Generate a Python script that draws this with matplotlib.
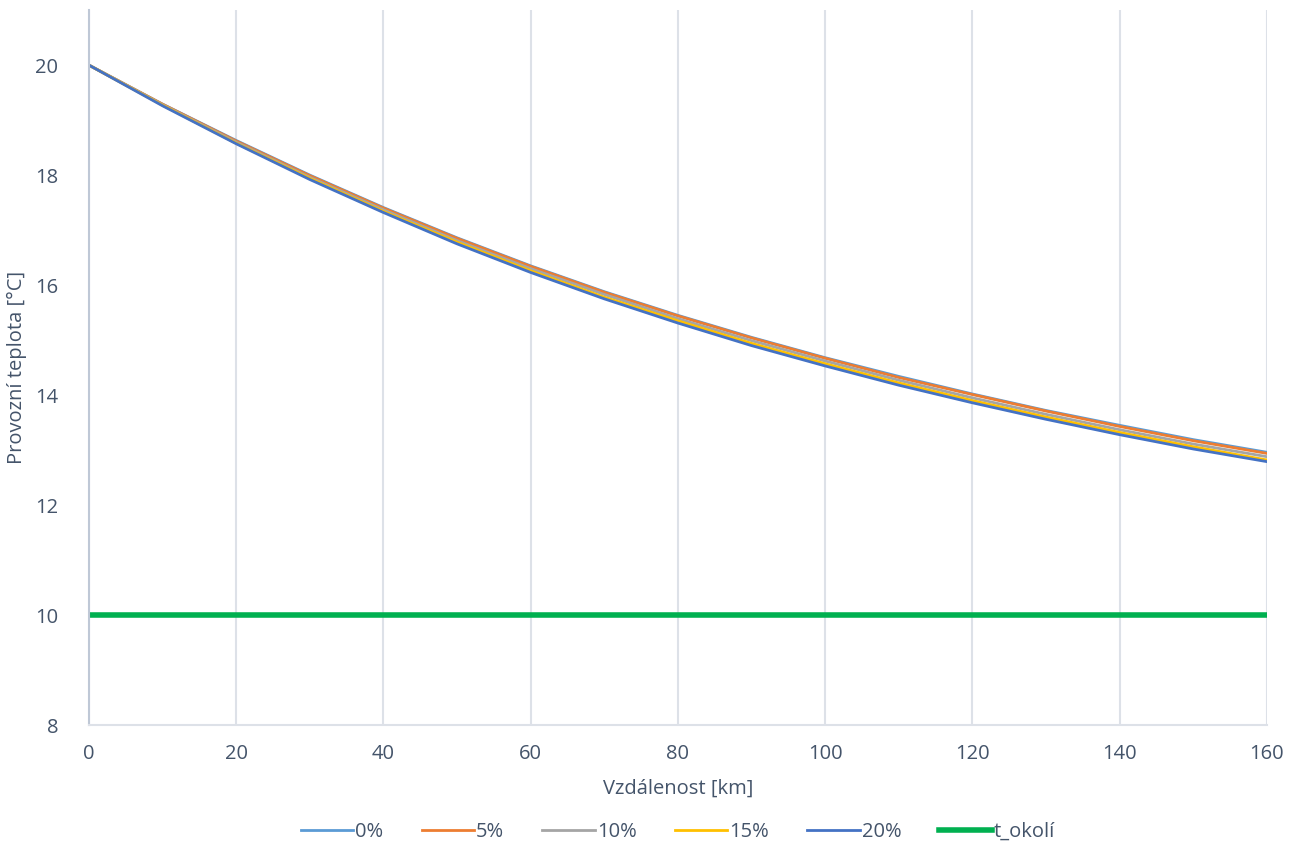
import matplotlib
matplotlib.use('Agg')
import matplotlib.pyplot as plt

# distance along the pipe [km]
distance = [0, 10, 20, 30, 40, 50, 60, 70, 80, 90, 100, 110, 120, 130, 140, 150, 160]

# operating temperature [°C] for each share
t_0 = [20.00, 19.29, 18.63, 18.00, 17.41, 16.86, 16.35, 15.88, 15.45, 15.05, 14.68, 14.34, 14.02, 13.72, 13.45, 13.19, 12.96]
t_5 = [20.00, 19.29, 18.62, 17.99, 17.40, 16.85, 16.34, 15.87, 15.44, 15.04, 14.67, 14.32, 14.01, 13.71, 13.43, 13.17, 12.94]
t_10 = [20.00, 19.28, 18.60, 17.96, 17.37, 16.81, 16.30, 15.83, 15.39, 14.99, 14.62, 14.27, 13.95, 13.65, 13.37, 13.11, 12.88]
t_15 = [20.00, 19.27, 18.58, 17.94, 17.34, 16.78, 16.26, 15.78, 15.35, 14.94, 14.57, 14.22, 13.90, 13.60, 13.32, 13.06, 12.82]
t_20 = [20.00, 19.26, 18.57, 17.92, 17.32, 16.75, 16.23, 15.75, 15.31, 14.90, 14.53, 14.18, 13.86, 13.56, 13.28, 13.02, 12.79]
t_okoli = [10.0] * len(distance)

labels = ['0%', '5%', '10%', '15%', '20%']
colors = ['#5B9BD5', '#ED7D31', '#A5A5A5', '#FFC000', '#4472C4']

txt = '#44546A'
plt.rcParams['font.family'] = ['Open Sans', 'DejaVu Sans']

fig = plt.figure(figsize=(13.03, 8.47), dpi=100)
ax = fig.add_axes([0.0683, 0.144, 0.904, 0.844])

for ys, lab, c in zip([t_0, t_5, t_10, t_15, t_20], labels, colors):
    ax.plot(distance, ys, color=c, lw=2.0, label=lab)
ax.plot(distance, t_okoli, color='#00B050', lw=4.0, label='t_okolí')

ax.set_xlim(0, 160)
ax.set_ylim(8, 21)
ax.set_xticks(range(0, 161, 20))
ax.set_yticks(range(8, 21, 2))
ax.grid(axis='x', color='#DDE1E8', lw=1.5)
ax.set_axisbelow(True)

for s in ['top', 'right']:
    ax.spines[s].set_visible(False)
ax.spines['left'].set_color('#BFC8D6')
ax.spines['left'].set_linewidth(1.5)
ax.spines['bottom'].set_color('#DDE1E8')
ax.spines['bottom'].set_linewidth(1.5)
ax.tick_params(length=0, labelsize=14.5, labelcolor=txt, pad=14)
ax.tick_params(axis='y', pad=22)

ax.set_xlabel('Vzdálenost [km]', fontsize=14.5, color=txt, labelpad=10)
ax.set_ylabel('Provozní teplota [°C]', fontsize=14.5, color=txt, labelpad=6)

ax.legend(loc='upper center', bbox_to_anchor=(0.5, -0.11), ncol=6, frameon=False,
          fontsize=14.5, labelcolor=txt, handlelength=2.6, handletextpad=0.1,
          columnspacing=1.9)

fig.savefig('out.png', dpi=100)
